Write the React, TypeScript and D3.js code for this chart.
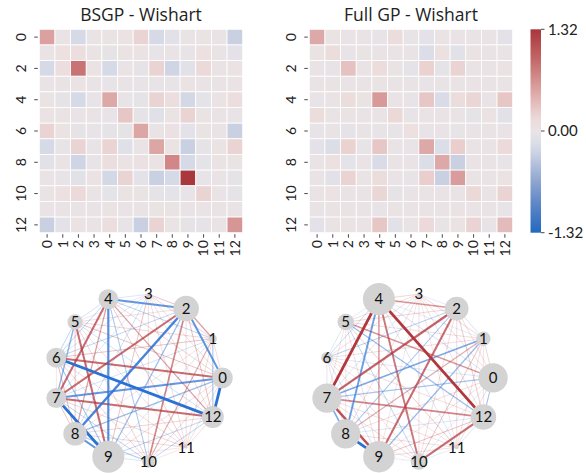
import React from "react";
import * as d3 from "d3";

// heatmap values (rows)
const bsgpRows: number[][] = [
  [0.55, 0.02, -0.2, 0.02, 0.03, 0.05, 0.2, -0.2, -0.1, 0.02, 0.03, 0.02, -0.3],
  [0.02, 0.08, 0.1, 0.03, -0.05, 0.03, 0.05, -0.03, 0.01, -0.02, 0.08, 0.02, -0.08],
  [-0.2, 0.1, 0.85, 0.05, -0.2, 0.02, -0.05, 0.2, -0.25, -0.1, 0.15, 0.02, 0.05],
  [0.02, 0.03, 0.05, 0.01, -0.02, 0.01, -0.02, -0.02, -0.03, 0.05, 0.02, 0.02, 0.02],
  [0.03, -0.05, -0.2, -0.02, 0.5, -0.03, -0.05, 0.2, 0.1, -0.22, -0.07, 0.04, 0.1],
  [0.05, 0.03, 0.02, 0.01, -0.03, 0.3, -0.05, -0.12, 0.05, 0.2, 0.03, 0.02, -0.03],
  [0.2, 0.05, -0.05, -0.02, -0.05, -0.05, 0.52, 0.01, 0.06, -0.08, 0.03, 0.02, -0.3],
  [-0.2, -0.03, 0.2, -0.02, 0.2, -0.12, 0.01, 0.52, 0.05, -0.3, -0.05, 0.03, 0.2],
  [-0.1, 0.01, -0.25, -0.03, 0.1, 0.05, 0.06, 0.05, 0.72, -0.2, -0.07, 0.03, 0.03],
  [0.02, -0.02, -0.1, 0.05, -0.22, 0.2, -0.08, -0.3, -0.2, 1.32, -0.02, 0.01, -0.05],
  [0.03, 0.08, 0.15, 0.02, -0.07, 0.03, 0.03, -0.05, -0.07, -0.02, 0.2, 0.01, -0.05],
  [0.02, 0.02, 0.02, 0.02, 0.04, 0.02, 0.02, 0.03, 0.03, 0.01, 0.01, 0.01, 0.02],
  [-0.3, -0.08, 0.05, 0.02, 0.1, -0.03, -0.3, 0.2, 0.03, -0.05, -0.05, 0.02, 0.62],
];

const fullRows: number[][] = [
  [0.5, 0.03, 0.02, 0.02, -0.03, 0.12, -0.02, -0.08, 0.02, 0.01, -0.01, 0.02, -0.08],
  [0.03, 0.12, -0.03, 0.03, -0.01, 0.02, 0.02, -0.15, 0.08, -0.1, 0.05, 0.02, 0.01],
  [0.02, -0.03, 0.33, -0.01, 0.12, 0.03, -0.06, 0.22, -0.07, 0.2, 0.02, 0.02, 0.04],
  [0.02, 0.03, -0.01, 0.01, 0.03, 0.02, 0.02, -0.02, 0.02, 0.01, 0.02, 0.01, 0.02],
  [-0.03, -0.01, 0.12, 0.03, 0.6, -0.01, -0.04, 0.3, -0.18, 0.12, 0.18, -0.02, 0.3],
  [0.12, 0.02, 0.03, 0.02, -0.01, 0.16, -0.02, 0.01, 0.01, 0.02, -0.05, 0.04, -0.1],
  [-0.02, 0.02, -0.06, 0.02, -0.04, -0.02, 0.08, -0.02, 0.02, -0.03, 0.02, 0.01, 0.02],
  [-0.08, -0.15, 0.22, -0.02, 0.3, 0.01, -0.02, 0.5, -0.15, 0.25, 0.02, 0.02, 0.15],
  [0.02, 0.08, -0.07, 0.02, -0.18, 0.01, 0.02, -0.15, 0.5, -0.3, 0.01, 0.02, -0.02],
  [0.01, -0.1, 0.2, 0.01, 0.12, 0.02, -0.03, 0.25, -0.3, 0.58, -0.01, 0.02, 0.05],
  [-0.01, 0.05, 0.02, 0.02, 0.18, -0.05, 0.02, 0.02, 0.01, -0.01, 0.16, -0.01, 0.2],
  [0.02, 0.02, 0.02, 0.01, -0.02, 0.04, 0.01, 0.02, 0.02, 0.02, -0.01, 0.01, -0.02],
  [-0.08, 0.01, 0.04, 0.02, 0.3, -0.1, 0.02, 0.15, -0.02, 0.05, 0.2, -0.02, 0.38],
];

const titles = ["BSGP - Wishart", "Full GP - Wishart"];
const nodeIds = d3.range(13);
const yTickLabels = [0, 2, 4, 6, 8, 10, 12];
const cbarTicks = [1.32, 0, -1.32];
const vmax = 1.32;

// approx of seaborn "vlag"
const vlagStops = ["#2369bd", "#5581c6", "#8da4cf", "#c5cde0", "#f3f1f0", "#e6c3c2", "#d5908f", "#bf5d5f", "#a9373b"];
const vlag = d3.interpolateRgbBasis(vlagStops);
const color = (v: number) => vlag((v + vmax) / (2 * vmax));

const FONT = "Lato, 'DejaVu Sans', sans-serif";
const TOP = 29.3;
const SIZE = 203.4;
const heatLefts = [39.3, 309.3];
const graphCenters = [138.2, 408.8];
const graphCy = 377.9;
const graphR = 84.3;

function Heatmap({ rows, left, title }: { rows: number[][]; left: number; title: string }) {
  const x = d3.scaleBand<number>().domain(nodeIds).range([left, left + SIZE]);
  const y = d3.scaleBand<number>().domain(nodeIds).range([TOP, TOP + SIZE]);
  const bw = x.bandwidth();
  return (
    <g>
      <text x={left + SIZE / 2} y={21} textAnchor="middle" fontSize={17.5}
        fontFamily="'Open Sans', Lato, sans-serif" fill="#222">{title}</text>
      {rows.map((row, i) =>
        row.map((v, j) => (
          <rect key={`${i}-${j}`} x={x(j)} y={y(i)} width={bw} height={bw}
            fill={color(v)} stroke="#fff" strokeWidth={0.8} />
        ))
      )}
      {yTickLabels.map((t) => {
        const cy = (y(t) as number) + bw / 2;
        return (
          <g key={"y" + t}>
            <line x1={left - 5} x2={left - 1.5} y1={cy} y2={cy} stroke="#333" strokeWidth={0.9} />
            <text transform={`translate(${left - 18},${cy}) rotate(-90)`} dy="0.35em"
              textAnchor="middle" fontSize={14} fill="#222">{t}</text>
          </g>
        );
      })}
      {nodeIds.map((t) => {
        const cx = (x(t) as number) + bw / 2;
        const b = TOP + SIZE;
        return (
          <g key={"x" + t}>
            <line x1={cx} x2={cx} y1={b + 1.5} y2={b + 5} stroke="#333" strokeWidth={0.9} />
            <text transform={`translate(${cx},${b + 7.5}) rotate(-90)`} dy="0.35em"
              textAnchor="end" fontSize={14} fill="#222">{t}</text>
          </g>
        );
      })}
    </g>
  );
}

function Graph({ rows, cx }: { rows: number[][]; cx: number }) {
  const angle = d3.scaleLinear().domain([0, 13]).range([0, 2 * Math.PI]);
  const pos = nodeIds.map((i) => [cx + graphR * Math.cos(angle(i)), graphCy - graphR * Math.sin(angle(i))]);
  const diag = nodeIds.map((i) => rows[i][i]);
  const rScale = d3.scaleSqrt().domain([0, d3.max(diag) as number]).range([0, 16]);
  const edges: { i: number; j: number; v: number }[] = [];
  nodeIds.forEach((i) => nodeIds.forEach((j) => {
    if (j > i) edges.push({ i, j, v: (rows[i][j] + rows[j][i]) / 2 });
  }));
  const maxOff = d3.max(edges, (e) => Math.abs(e.v)) as number;
  const t = d3.scaleLinear().domain([0, maxOff]).range([0, 1]).clamp(true);
  edges.sort((a, b) => Math.abs(a.v) - Math.abs(b.v));
  return (
    <g>
      {edges.map((e) => {
        const k = t(Math.abs(e.v));
        return (
          <line key={`${e.i}-${e.j}`} x1={pos[e.i][0]} y1={pos[e.i][1]} x2={pos[e.j][0]} y2={pos[e.j][1]}
            stroke={e.v > 0 ? "#b2363e" : "#2a71d4"} strokeOpacity={0.2 + 0.8 * k}
            strokeWidth={0.5 + 2.3 * k} />
        );
      })}
      {nodeIds.map((i) => (
        <circle key={"n" + i} cx={pos[i][0]} cy={pos[i][1]} r={rScale(diag[i])} fill="#d3d3d3" />
      ))}
      {nodeIds.map((i) => (
        <text key={"l" + i} x={pos[i][0]} y={pos[i][1]} dy="0.35em" textAnchor="middle"
          fontSize={15} fill="#111">{i}</text>
      ))}
    </g>
  );
}

export default function App() {
  const cb = d3.scaleLinear().domain([vmax, -vmax]).range([TOP, TOP + SIZE]);
  const gradStops = d3.range(0, 1.0001, 0.05);
  return (
    <div style={{ position: "absolute", left: 0, top: 0 }}>
      <svg width={586} height={473} style={{ fontFamily: FONT, display: "block" }}>
        <defs>
          <linearGradient id="cbar" x1="0" y1="1" x2="0" y2="0">
            {gradStops.map((s) => (
              <stop key={s} offset={s} stopColor={vlag(s)} />
            ))}
          </linearGradient>
        </defs>
        <rect width={586} height={473} fill="#fff" />
        {[bsgpRows, fullRows].map((rows, k) => (
          <Heatmap key={k} rows={rows} left={heatLefts[k]} title={titles[k]} />
        ))}
        <rect x={530.5} y={TOP} width={10.5} height={SIZE} fill="url(#cbar)" />
        {cbarTicks.map((v) => (
          <g key={v}>
            <line x1={541} x2={544.5} y1={cb(v)} y2={cb(v)} stroke="#333" strokeWidth={0.9} />
            <text x={548} y={cb(v)} dy="0.35em" fontSize={15} fill="#222">{v.toFixed(2)}</text>
          </g>
        ))}
        {[bsgpRows, fullRows].map((rows, k) => (
          <Graph key={"g" + k} rows={rows} cx={graphCenters[k]} />
        ))}
      </svg>
    </div>
  );
}
